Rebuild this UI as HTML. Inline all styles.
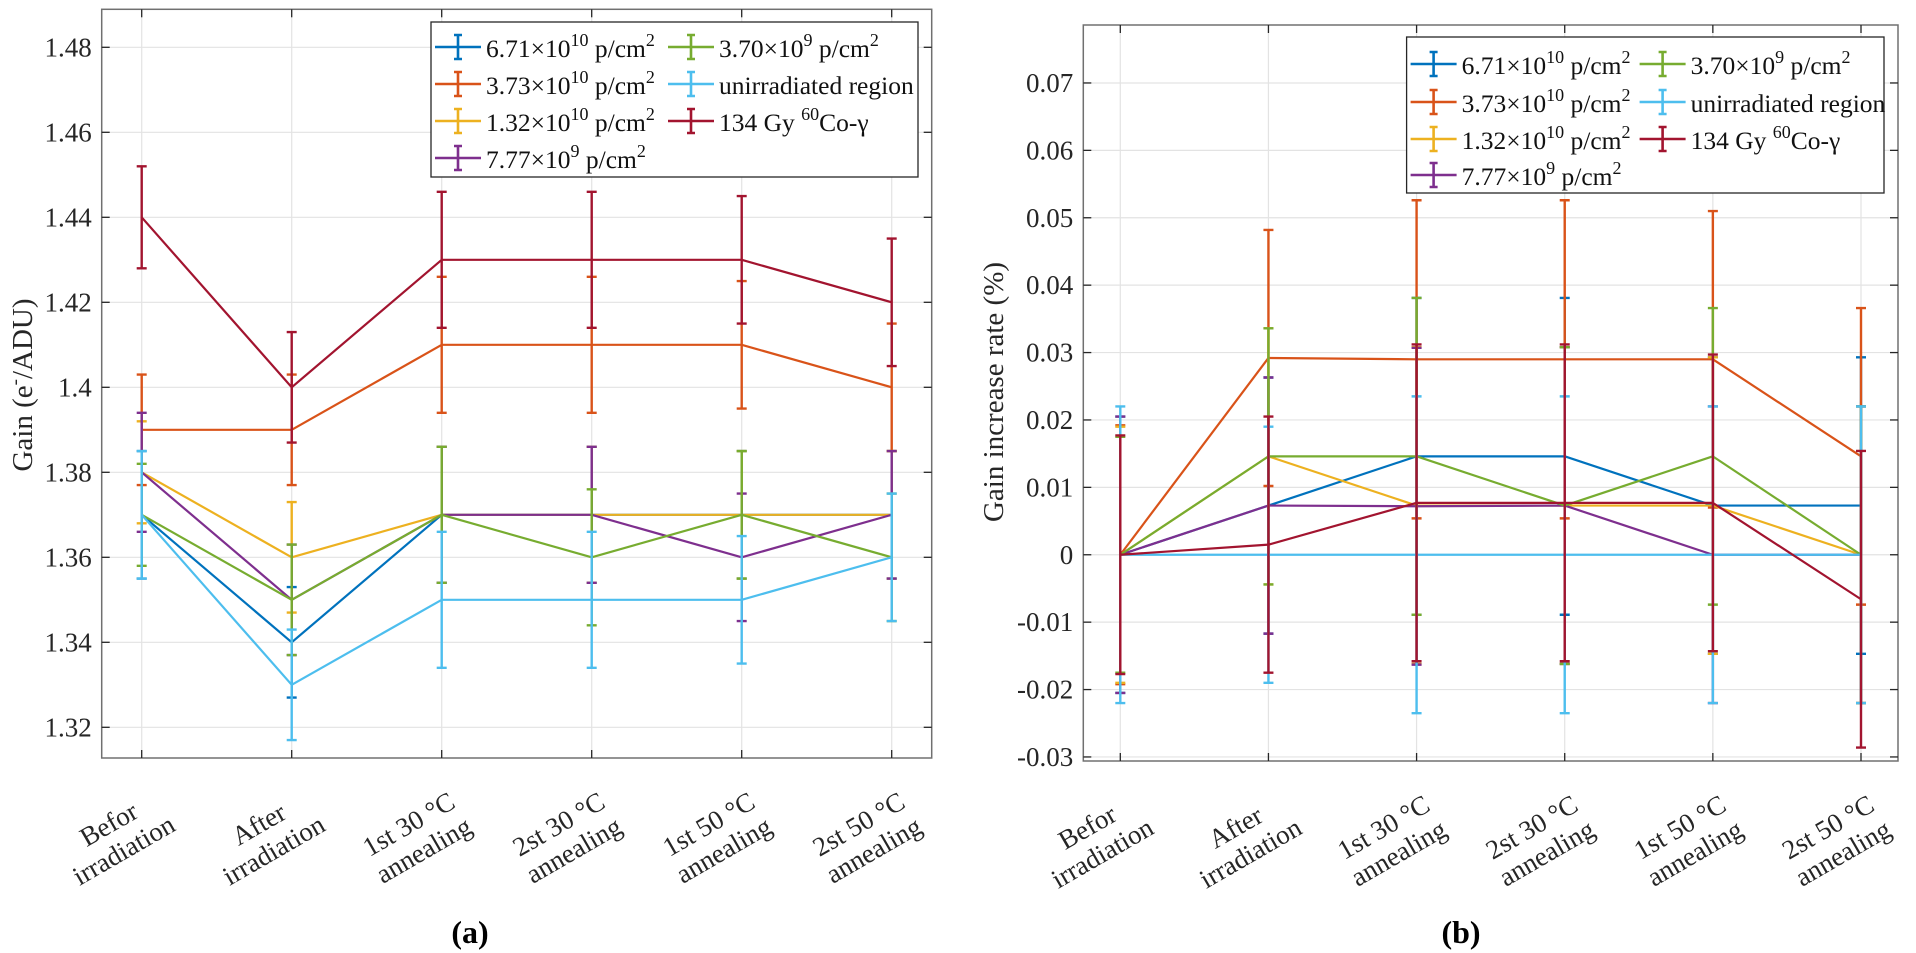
<!DOCTYPE html>
<html><head><meta charset="utf-8">
<style>
html,body{margin:0;padding:0;background:#fff;}
svg{display:block;font-family:"Liberation Serif","Times New Roman",serif;}
</style></head>
<body>
<svg id="fig" width="1916" height="953" viewBox="0 0 1916 953" xmlns="http://www.w3.org/2000/svg"></svg>
<script>
// ---- shared data ----
const categories = [["Befor","irradiation"],["After","irradiation"],["1st 30 °C","annealing"],["2st 30 °C","annealing"],["1st 50 °C","annealing"],["2st 50 °C","annealing"]];
const seriesNames = ["s671e10","s373e10","s132e10","s777e9","s370e9","unirradiated","co60"];
const seriesColors = ["#0072BD","#D95319","#EDB120","#7E2F8E","#77AC30","#4DBEEE","#A2142F"];
// ---- chart (a): gain ----
const gainBlue   = [1.37,1.34,1.37,1.37,1.37,1.37];
const gainOrange = [1.39,1.39,1.41,1.41,1.41,1.40];
const gainYellow = [1.38,1.36,1.37,1.37,1.37,1.37];
const gainPurple = [1.38,1.35,1.37,1.37,1.36,1.37];
const gainGreen  = [1.37,1.35,1.37,1.36,1.37,1.36];
const gainCyan   = [1.37,1.33,1.35,1.35,1.35,1.36];
const gainRed    = [1.44,1.40,1.43,1.43,1.43,1.42];
const gainErrBlue   = [0.015,0.013,0.016,0.016,0.015,0.015];
const gainErrOrange = [0.013,0.013,0.016,0.016,0.015,0.015];
const gainErrYellow = [0.012,0.013,0.016,0.016,0.015,0.015];
const gainErrPurple = [0.014,0.013,0.016,0.016,0.015,0.015];
const gainErrGreen  = [0.012,0.013,0.016,0.016,0.015,0.015];
const gainErrCyan   = [0.015,0.013,0.016,0.016,0.015,0.015];
const gainErrRed    = [0.012,0.013,0.016,0.016,0.015,0.015];
const gainTicks = [1.32,1.34,1.36,1.38,1.40,1.42,1.44,1.46,1.48];
const gainTickLabels = ["1.32","1.34","1.36","1.38","1.4","1.42","1.44","1.46","1.48"];
// ---- chart (b): gain increase rate ----
const rateBlue   = [0,0.0073,0.0146,0.0146,0.0073,0.0073];
const rateOrange = [0,0.0292,0.0290,0.0290,0.0290,0.0146];
const rateYellow = [0,0.0146,0.0073,0.0073,0.0073,0];
const ratePurple = [0,0.0073,0.0072,0.0073,0,0];
const rateGreen  = [0,0.0146,0.0146,0.0073,0.0146,0];
const rateCyan   = [0,0,0,0,0,0];
const rateRed    = [0,0.0015,0.0077,0.0077,0.0077,-0.0066];
const rateErrBlue   = [0.0205,0.019,0.0235,0.0235,0.022,0.022];
const rateErrOrange = [0.0192,0.019,0.0236,0.0236,0.022,0.022];
const rateErrYellow = [0.019,0.019,0.0235,0.0235,0.022,0.022];
const rateErrPurple = [0.0205,0.019,0.0235,0.0235,0.022,0.022];
const rateErrGreen  = [0.0175,0.019,0.0235,0.0235,0.022,0.022];
const rateErrCyan   = [0.022,0.019,0.0235,0.0235,0.022,0.022];
const rateErrRed    = [0.0177,0.019,0.0235,0.0235,0.022,0.022];
const rateTicks = [-0.03,-0.02,-0.01,0,0.01,0.02,0.03,0.04,0.05,0.06,0.07];
const rateTickLabels = ["-0.03","-0.02","-0.01","0","0.01","0.02","0.03","0.04","0.05","0.06","0.07"];

const NS="http://www.w3.org/2000/svg";
const svg=document.getElementById('fig');
function mk(tag,attrs,parent){const e=document.createElementNS(NS,tag);for(const k in attrs)e.setAttribute(k,attrs[k]);(parent||svg).appendChild(e);return e;}

function drawChart(cfg){
  const g=mk('g',{});
  
  
  const {L,R,T,B,ymin,ymax}=cfg;
  const n=categories.length;
  const step=(R-L-cfg.pad*2)/(n-1);
  const xs=i=>L+cfg.pad+i*step;
  const ys=v=>B-(v-ymin)/(ymax-ymin)*(B-T);
  cfg.ticks.forEach((t,i)=>{
    const y=ys(t);
    const gl=mk('line',{x1:L,x2:R,y1:y,y2:y,stroke:'#e3e3e3','stroke-width':1.2},g);
    
    
  });
  for(let i=0;i<n;i++){
    const gl=mk('line',{x1:xs(i),x2:xs(i),y1:T,y2:B,stroke:'#e3e3e3','stroke-width':1.2},g);
    
    
  }
  const box=mk('rect',{x:L,y:T,width:R-L,height:B-T,fill:'none',stroke:'#707070','stroke-width':1.5},g);
  
  
  cfg.ticks.forEach((t,i)=>{
    const y=ys(t);
    mk('line',{x1:L,x2:L+8,y1:y,y2:y,stroke:'#262626','stroke-width':1.3},g);
    mk('line',{x1:R,x2:R-8,y1:y,y2:y,stroke:'#262626','stroke-width':1.3},g);
    const tl=mk('text',{x:L-10,y:y+9,'text-anchor':'end','font-size':27,fill:'#262626'},g);
    tl.textContent=cfg.tickLabels[i];
    
    
  });
  for(let i=0;i<n;i++){
    mk('line',{x1:xs(i),x2:xs(i),y1:B,y2:B-8,stroke:'#262626','stroke-width':1.3},g);
    mk('line',{x1:xs(i),x2:xs(i),y1:T,y2:T+8,stroke:'#262626','stroke-width':1.3},g);
    const cx=xs(i)-25, cy=B+80;
    const tl=mk('text',{'text-anchor':'middle','font-size':27,fill:'#262626',transform:`translate(${cx},${cy}) rotate(-30)`},g);
    
    
    const a=mk('tspan',{x:0,y:-7},tl);a.textContent=categories[i][0];
    const b=mk('tspan',{x:0,y:23},tl);b.textContent=categories[i][1];
  }
  cfg.series.forEach((s,si)=>{
    const sg=mk('g',{},g);
    
    
    const pts=s.v.map((v,i)=>xs(i)+','+ys(v)).join(' ');
    const pl=mk('polyline',{points:pts,fill:'none',stroke:seriesColors[si],'stroke-width':2.2,'stroke-linejoin':'round'},sg);
    
    
    s.v.forEach((v,i)=>{
      const x=xs(i),y1=ys(v+s.e[i]),y2=ys(v-s.e[i]);
      const eb=mk('path',{d:`M${x},${y1}V${y2}M${x-5},${y1}H${x+5}M${x-5},${y2}H${x+5}`,stroke:seriesColors[si],'stroke-width':2.4,fill:'none'},sg);
      
      
    });
  });
  const yl=mk('text',{'text-anchor':'middle','font-size':29,fill:'#262626',transform:`translate(${cfg.ylx},${cfg.yly}) rotate(-90)`},g);
  
  
  cfg.ylabel(yl);
  const lg=mk('g',{},g);
  
  
  const lgb=mk('rect',{x:cfg.lg.x,y:cfg.lg.y,width:cfg.lg.w,height:cfg.lg.h,fill:'#fff',stroke:'#262626','stroke-width':1.3},lg);
  
  
  const labels=[["6.71×10","10"," p/cm","2"],["3.73×10","10"," p/cm","2"],["1.32×10","10"," p/cm","2"],["7.77×10","9"," p/cm","2"],["3.70×10","9"," p/cm","2"],["unirradiated region"],["134 Gy ","60","Co-γ"]];
  labels.forEach((lab,i)=>{
    const col=i<4?0:1,row=i<4?i:i-4;
    const mx=cfg.lg.x+cfg.lg.mx[col], ty=cfg.lg.rows[row];
    const e=mk('g',{},lg);
    
    
    mk('path',{d:`M${mx},${ty}H${mx+46}M${mx+23},${ty-12}V${ty+12}M${mx+19},${ty-12}H${mx+27}M${mx+19},${ty+12}H${mx+27}`,stroke:seriesColors[i],'stroke-width':2.6,fill:'none'},e);
    const t=mk('text',{x:mx+51,y:ty+10,'font-size':25.5,fill:'#111'},e);
    if(lab.length===1){t.textContent=lab[0];}
    else if(lab.length===3){
      const a=mk('tspan',{},t);a.textContent=lab[0];
      const b=mk('tspan',{dy:-11,'font-size':18},t);b.textContent=lab[1];
      const c=mk('tspan',{dy:11},t);c.textContent=lab[2];
    } else {
      const a=mk('tspan',{},t);a.textContent=lab[0];
      const b=mk('tspan',{dy:-11,'font-size':18},t);b.textContent=lab[1];
      const c=mk('tspan',{dy:11},t);c.textContent=lab[2];
      const d=mk('tspan',{dy:-11,'font-size':18},t);d.textContent=lab[3];
    }
  });
  const cap=mk('text',{x:cfg.capx,y:943,'text-anchor':'middle','font-size':32,'font-weight':'bold',fill:'#000'},g);
  cap.textContent=cfg.caption;
  
  
}

drawChart({name:'gain-chart',L:101.7,R:931.7,T:9.3,B:758,pad:40,ymin:1.32-30.7/4250,ymax:1.48+38/4250,
  ticks:gainTicks,tickLabels:gainTickLabels,
  series:[{v:gainBlue,e:gainErrBlue},{v:gainOrange,e:gainErrOrange},{v:gainYellow,e:gainErrYellow},{v:gainPurple,e:gainErrPurple},{v:gainGreen,e:gainErrGreen},{v:gainCyan,e:gainErrCyan},{v:gainRed,e:gainErrRed}],
  ylx:32,yly:385,ylabel:t=>{const a=mk('tspan',{},t);a.textContent='Gain (e';const b=mk('tspan',{dy:-11,'font-size':19},t);b.textContent='-';const c=mk('tspan',{dy:11},t);c.textContent='/ADU)';},
  lg:{x:431,y:22,w:487,h:155,mx:[4,237],rows:[47,84,121,158]},capx:470,caption:'(a)'});

drawChart({name:'rate-chart',L:1083.3,R:1898,T:25,B:761,pad:37,ymin:-0.0306,ymax:0.0786,
  ticks:rateTicks,tickLabels:rateTickLabels,
  series:[{v:rateBlue,e:rateErrBlue},{v:rateOrange,e:rateErrOrange},{v:rateYellow,e:rateErrYellow},{v:ratePurple,e:rateErrPurple},{v:rateGreen,e:rateErrGreen},{v:rateCyan,e:rateErrCyan},{v:rateRed,e:rateErrRed}],
  ylx:1003,yly:392,ylabel:t=>{t.textContent='Gain increase rate (%)';},
  lg:{x:1406.6,y:37,w:477.4,h:156,mx:[4,233],rows:[64,102,139,175]},capx:1461,caption:'(b)'});
</script>
</body></html>
